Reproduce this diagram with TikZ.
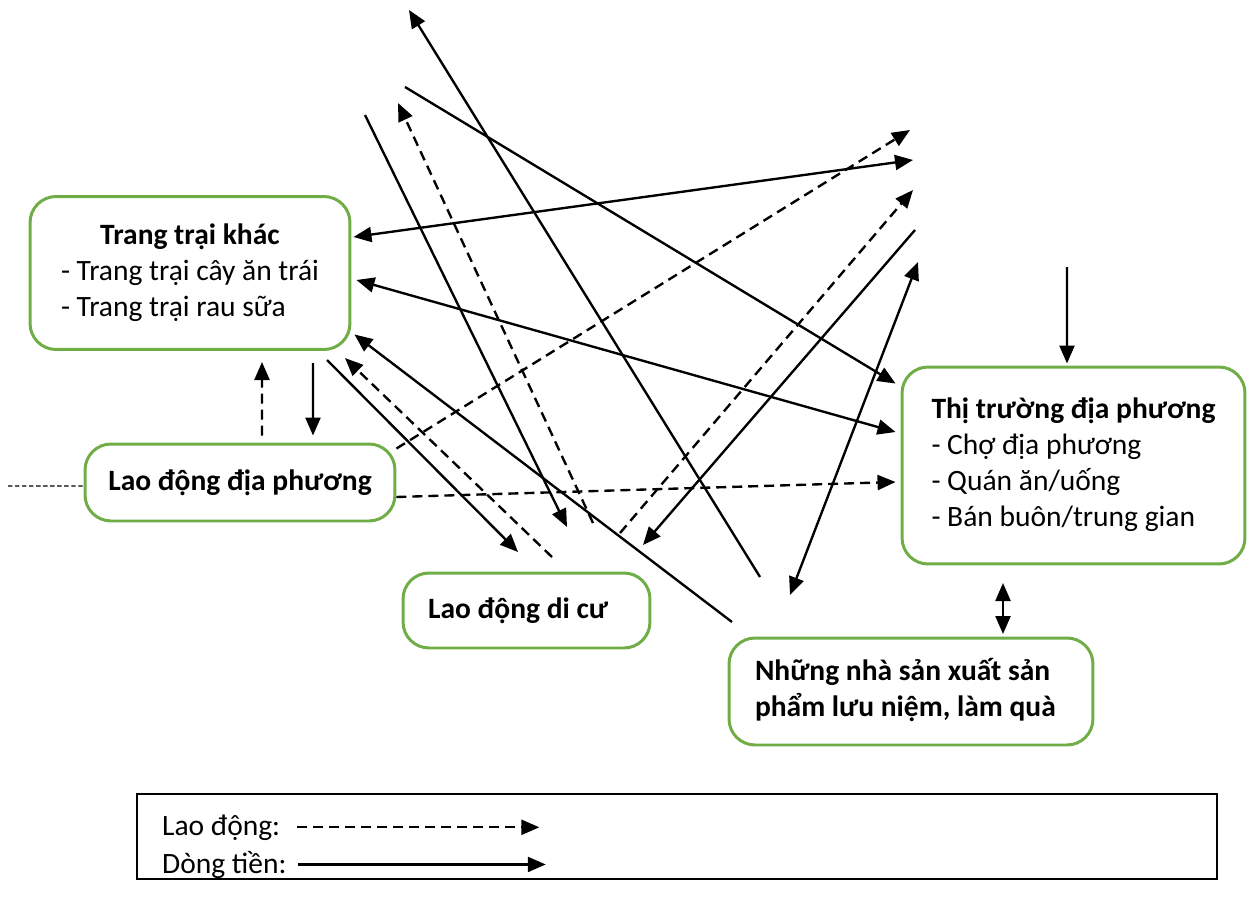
\documentclass[tikz,border=0pt]{standalone}
\usepackage{fontspec}
\setmainfont{Carlito}
\usetikzlibrary{arrows.meta,calc}
\definecolor{boxgreen}{RGB}{112,173,71}
\tikzset{
    box/.style = {draw=boxgreen, line width=1.7pt, rounded corners=0.52cm, inner sep=0pt},
    keybox/.style = {draw, line width=0.9pt, inner sep=0pt},
    money/.style = {draw, line width=1.35pt, ->},
    labour/.style = {money, dash pattern=on 0.2cm off 0.12cm},
    free/.style = {coordinate}
}

\begin{document}
\begin{tikzpicture}[x=0.02cm, y=-0.02cm, >={Triangle[length=0.36cm,width=0.3cm]},
    every node/.style={font=\fontsize{16.8}{20.4}\selectfont}]
    \useasboundingbox (0,0) rectangle (1251,906);
    % boxes
    \node [box, minimum width=6.4cm, minimum height=3.06cm, name=farms] at (190,273)
        {\begin{tabular}{@{}l@{}}\multicolumn{1}{@{}c@{}}{\textbf{Trang trại khác}}\\- Trang trại cây ăn trái\\- Trang trại rau sữa\end{tabular}};
    \node [box, minimum width=6.2cm, minimum height=1.54cm, name=localab] at (240,482.5) {\textbf{Lao động địa phương}};
    \node [box, minimum width=4.94cm, minimum height=1.5cm, inner xsep=0.5cm, name=migrant] at (526.5,610.5)
        {\makebox[3.94cm][l]{\textbf{Lao động di cư}}};
    \node [box, minimum width=6.86cm, minimum height=3.94cm, name=market] at (1073.5,465.5)
        {\begin{tabular}{@{}l@{}}\textbf{Thị trường địa phương}\\- Chợ địa phương\\- Quán ăn/uống\\- Bán buôn/trung gian\end{tabular}};
    \node [box, minimum width=7.28cm, minimum height=2.14cm, inner xsep=0.52cm, name=makers] at (911,691.5)
        {\makebox[6.24cm][l]{\begin{tabular}{@{}l@{}}\textbf{Những nhà sản xuất sản}\\\textbf{phẩm lưu niệm, làm quà}\end{tabular}}};
    % free ends
    \node [free, name=p1] at (760,577) {};
    \node [free, name=q1] at (409,10) {};
    \node [free, name=p2] at (405,87) {};
    \node [free, name=p3] at (365,115) {};
    \node [free, name=q3] at (567,527) {};
    \node [free, name=p4] at (593,523) {};
    \node [free, name=q4] at (398,103) {};
    \node [free, name=q5] at (913,160) {};
    \node [free, name=p7] at (732,622) {};
    \node [free, name=p8] at (327,360) {};
    \node [free, name=q8] at (518,552) {};
    \node [free, name=p9] at (552,557) {};
    \node [free, name=q9] at (345,358) {};
    \node [free, name=q10] at (910,130) {};
    \node [free, name=p12] at (620,533) {};
    \node [free, name=q12] at (913,190) {};
    \node [free, name=p13] at (915,230) {};
    \node [free, name=q13] at (643,545) {};
    \node [free, name=p14] at (790,595) {};
    \node [free, name=q14] at (918,262) {};
    \node [free, name=p15] at (1067,267) {};
    \node [free, name=p16] at (1003,583) {};
    \node [free, name=q16] at (1003,634) {};
    \node [free, name=q17] at (262,362) {};
    \node [free, name=p18] at (313,363) {};
    \node [free, name=p19] at (8,486) {};
    % flows
    \draw [money] (p1) -- (q1);
    \draw [money] (p2) -- ([xshift=-0.1cm,yshift=-0.36cm]market.north west);
    \draw [money] (p3) -- (q3);
    \draw [labour] (p4) -- (q4);
    \draw [money,<->] ([yshift=0.72cm,xshift=0.04cm]farms.east) -- (q5);
    \draw [money,<->] ([yshift=-0.14cm,xshift=0.1cm]farms.east) -- ([xshift=-0.1cm,yshift=0.67cm]market.west);
    \draw [money] (p7) -- ([xshift=0.06cm,yshift=0.33cm]farms.south east);
    \draw [money] (p8) -- (q8);
    \draw [labour] (p9) -- (q9);
    \draw [labour] ([yshift=-0.12cm]localab.north east) -- (q10);
    \draw [labour] ([yshift=-0.29cm]localab.east) -- ([xshift=-0.1cm,yshift=-0.33cm]market.west);
    \draw [labour] (p12) -- (q12);
    \draw [money] (p13) -- (q13);
    \draw [money,<->] (p14) -- (q14);
    \draw [money] (p15) -- ([xshift=-0.13cm,yshift=0.04cm]market.north);
    \draw [money,<->] (p16) -- (q16);
    \draw [labour] ([xshift=0.44cm,yshift=0.14cm]localab.north) -- (q17);
    \draw [money] (p18) -- ([xshift=1.46cm,yshift=0.14cm]localab.north);
    \draw [line width=0.6pt, dash pattern=on 2.5pt off 1.5pt] (p19) -- ([yshift=-0.07cm]localab.west);
    % legend
    \node [keybox, minimum width=21.6cm, minimum height=1.7cm, name=key] at (677,836.5) {};
    \node [anchor=base west, name=keylab] at (156,835) {Lao động:};
    \node [anchor=base west, name=keycash] at (156,873) {Dòng tiền:};
    \draw [labour] ([xshift=0.22cm]keylab.east) -- ++(242,0);
    \draw [money] ([xshift=0.1cm]keycash.east) -- ++(248,0);
\end{tikzpicture}
\end{document}
